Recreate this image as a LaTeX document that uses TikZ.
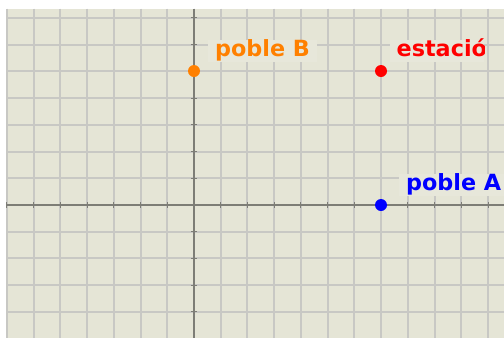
\documentclass[tikz,border=0pt]{standalone}
\usepackage{fontspec}
\setmainfont{DejaVu Sans}
\definecolor{bgc}{RGB}{229,229,214}
\definecolor{lblbg}{RGB}{231,231,218}
\definecolor{gridc}{RGB}{200,200,196}
\definecolor{axisc}{RGB}{125,125,118}
\definecolor{orng}{RGB}{255,128,0}
\tikzset{
  dot/.style={circle,inner sep=0pt,minimum size=12pt},
  lbl/.style={font=\fontsize{22.3}{25}\bfseries\selectfont,anchor=base west,inner sep=0pt,fill=lblbg,
     inner xsep=7pt,inner ysep=0pt,text depth=6pt,text height=16pt},
  gridline/.style={draw=gridc,line width=2pt},
  axisline/.style={draw=axisc,line width=1.5pt},
}
\begin{document}
\begin{tikzpicture}[x=1pt,y=-1pt]
\useasboundingbox (0,0) rectangle (504,338);
\fill[white] (0,0) rectangle (504,338);
\fill[bgc] (7,8.7) rectangle (504,338);
% vertical grid lines
\foreach \k in {-7,...,11} {
  \draw[gridline] ({194+26.73*\k},8.7) -- ({194+26.73*\k},338);
}
% horizontal grid lines
\foreach \k in {-4,...,7} {
  \draw[gridline] (7,{205-26.73*\k}) -- (504,{205-26.73*\k});
}
% axes
\draw[axisline] (7,205) -- (504,205);
\draw[axisline] (194,8.7) -- (194,338);
\foreach \k in {-7,...,11} {
  \draw[axisc,line width=1pt] ({194+26.73*\k},202) -- ({194+26.73*\k},208);
}
\foreach \k in {-4,...,7} {
  \draw[axisc,line width=1pt] (191,{205-26.73*\k}) -- (197,{205-26.73*\k});
}
% labels
\node[lbl,text=orng] (lB) at (208,56) {poble B};
\begin{scope}
\clip (380,30) rectangle (484,70);
\node[lbl,text=red] (lE) at (389.5,56) {estación};
\end{scope}
\node[lbl,text=blue] (lA) at (399,190) {poble A};
% points
\node[dot,fill=orng] (B) at (194,71) {};
\node[dot,fill=red] (E) at (381,71) {};
\node[dot,fill=blue] (A) at (381,205) {};
\end{tikzpicture}
\end{document}
